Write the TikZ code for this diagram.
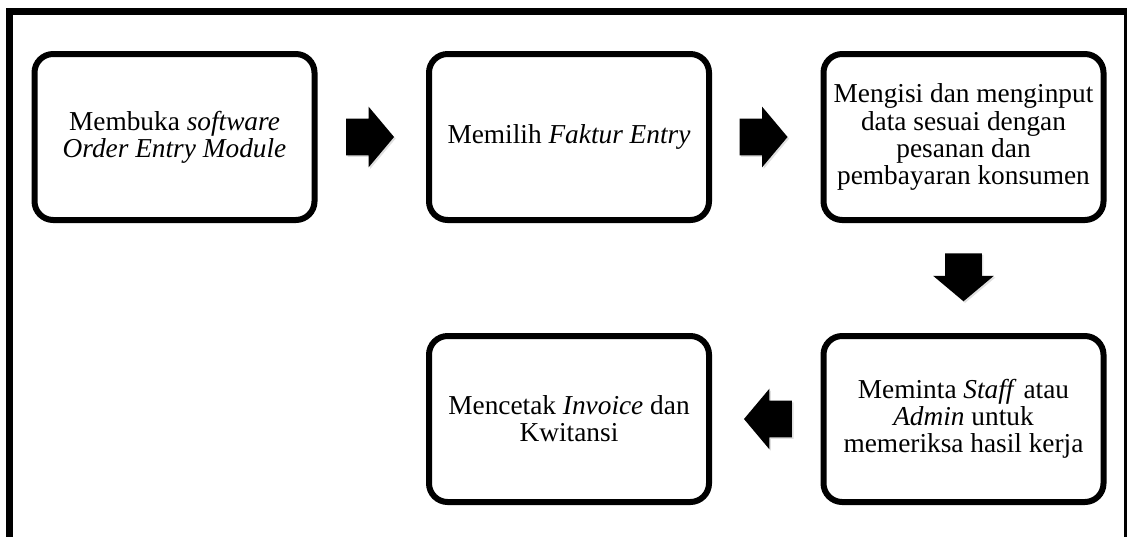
\documentclass[tikz,border=0pt]{standalone}
\usepackage{fontspec}
\setmainfont{Liberation Serif}
\usetikzlibrary{calc,shapes.arrows,shadows}

\tikzset{
  stepbox/.style={draw, line width=4.5pt, rounded corners=14pt,
    minimum width=210pt, minimum height=124.5pt, inner sep=0pt,
    align=center, font=\fontsize{20.5}{20.3}\selectfont},
  blockarrow/.style={single arrow, fill=black, draw=none, anchor=tail,
    inner xsep=0pt, inner ysep=13.5pt, minimum height=36pt,
    single arrow head extend=9pt, single arrow tip angle=100,
    drop shadow={opacity=0.25, shadow xshift=1.2pt, shadow yshift=-1.2pt}}
}

\begin{document}
\begin{tikzpicture}[x=0.75pt, y=-0.75pt]
  \useasboundingbox (0,0) rectangle (1127,536);
  \clip (0,0) rectangle (1127,536);
  % outer frame
  \draw[line width=5.25pt] (9.5,11.5) rectangle (1127.5,590);

  % steps
  \node[stepbox] (b1) at (174.5,137) {Membuka \textit{software}\\\textit{Order Entry Module}};
  \node[stepbox] (b2) at (569,137) {Memilih \textit{Faktur Entry}};
  \node[stepbox] (b3) at (963.5,137) {Mengisi dan menginput\\data sesuai dengan\\pesanan dan\\pembayaran konsumen};
  \node[stepbox] (b4) at (963.5,419) {Meminta \textit{Staff} atau\\\textit{Admin} untuk\\memeriksa hasil kerja};
  \node[stepbox] (b5) at (569,419) {Mencetak \textit{Invoice} dan\\Kwitansi};

  % block arrows (placed by their tails)
  \node[blockarrow] (a1) at ($(b1.east)!0.5!(b2.west)+(-26,0)$) {};
  \node[blockarrow] (a2) at ($(b2.east)!0.5!(b3.west)+(-27,0)$) {};
  \node[blockarrow, rotate=-90] (a3) at ($(b3.south)!0.5!(b4.north)+(0,-25)$) {};
  \node[blockarrow, rotate=180] (a4) at ($(b4.west)!0.5!(b5.east)+(26,0)$) {};
\end{tikzpicture}
\end{document}
